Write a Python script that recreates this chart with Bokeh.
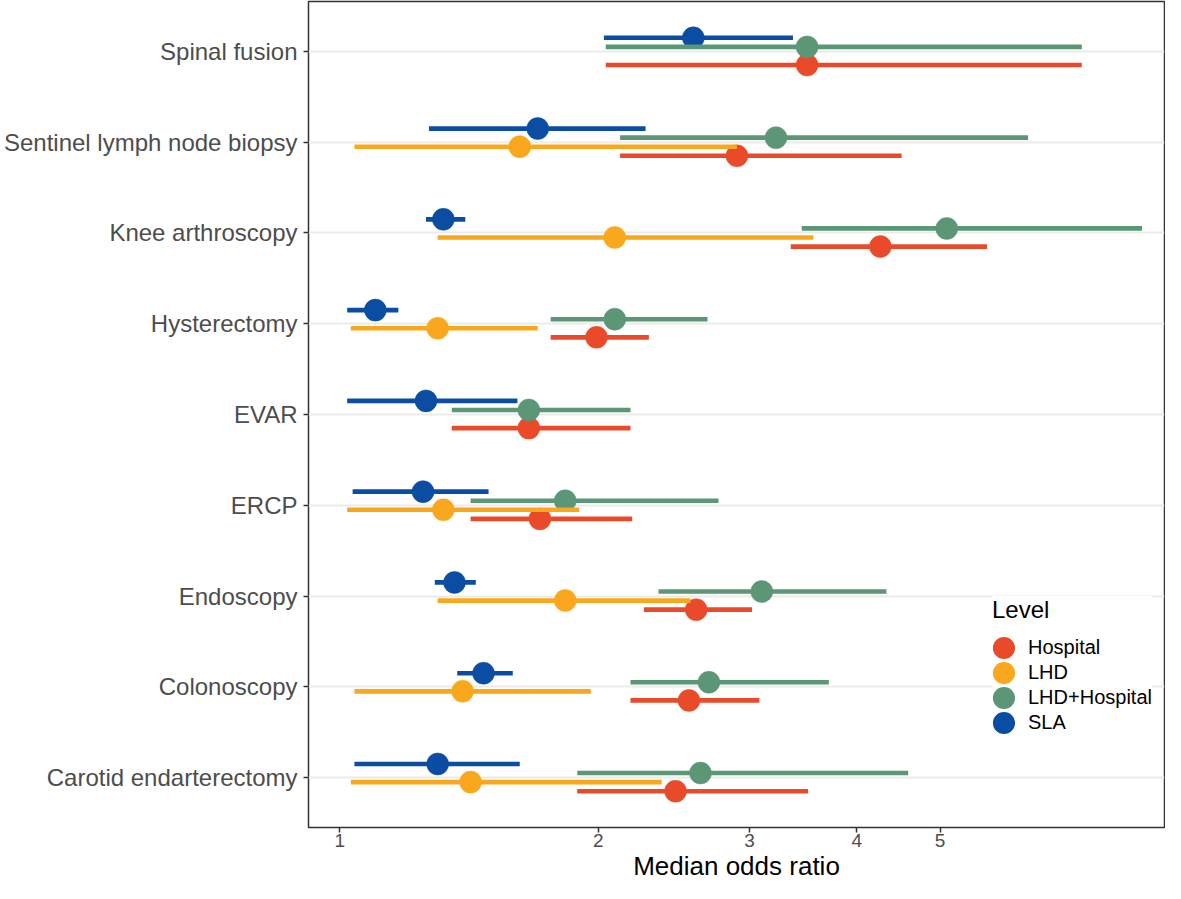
from bokeh.plotting import figure
from bokeh.models import (Range1d, FixedTicker, PrintfTickFormatter, Legend,
                          LegendItem, ColumnDataSource)
from bokeh.embed import file_html
from bokeh.resources import INLINE

# ---------------- data ----------------
categories = ["Carotid endarterectomy", "Colonoscopy", "Endoscopy", "ERCP", "EVAR",
              "Hysterectomy", "Knee arthroscopy", "Sentinel lymph node biopsy",
              "Spinal fusion"]
levels = ["Hospital", "LHD", "LHD+Hospital", "SLA"]
level_colors = ["#E84A2A", "#F9A71C", "#5B9676", "#0A4DA2"]

hospital_est = [2.46, 2.55, 2.60, 1.71, 1.66, 1.99, 4.26, 2.90, 3.50]
hospital_lo = [1.89, 2.18, 2.26, 1.42, 1.35, 1.76, 3.35, 2.12, 2.04]
hospital_hi = [3.51, 3.08, 3.02, 2.19, 2.18, 2.29, 5.67, 4.51, 7.31]

lhd_est = [1.42, 1.39, 1.83, 1.32, None, 1.30, 2.09, 1.62, None]
lhd_lo = [1.03, 1.04, 1.30, 1.02, None, 1.03, 1.30, 1.04, None]
lhd_hi = [2.37, 1.96, 2.56, 1.90, None, 1.70, 3.56, 2.90, None]

lhdhosp_est = [2.63, 2.69, 3.10, 1.83, 1.66, 2.09, 5.09, 3.22, 3.50]
lhdhosp_lo = [1.89, 2.18, 2.35, 1.42, 1.35, 1.76, 3.45, 2.12, 2.04]
lhdhosp_hi = [4.59, 3.71, 4.33, 2.76, 2.18, 2.68, 8.59, 6.33, 7.31]

sla_est = [1.30, 1.47, 1.36, 1.25, 1.26, 1.10, 1.32, 1.70, 2.58]
sla_lo = [1.04, 1.37, 1.29, 1.035, 1.02, 1.02, 1.26, 1.27, 2.03]
sla_hi = [1.62, 1.59, 1.44, 1.49, 1.61, 1.17, 1.40, 2.27, 3.37]

x_ticks = [1, 2, 3, 4, 5]
x_title = "Median odds ratio"
legend_title = "Level"

series = [(hospital_est, hospital_lo, hospital_hi),
          (lhd_est, lhd_lo, lhd_hi),
          (lhdhosp_est, lhdhosp_lo, lhdhosp_hi),
          (sla_est, sla_lo, sla_hi)]
dodge = [-0.15, -0.05, 0.05, 0.15]

FONT = "Liberation Sans"

p = figure(width=1165, height=883, x_axis_type="log",
           x_range=Range1d(0.9195, 9.125), y_range=Range1d(-0.55, 8.55),
           output_backend="svg", toolbar_location=None,
           min_border_left=308, min_border_right=1, min_border_top=1,
           min_border_bottom=55)

sources = []
for (est, lo, hi), off in zip(series, dodge):
    ys, es, ls, hs = [], [], [], []
    for i, (e, l, h) in enumerate(zip(est, lo, hi)):
        if e is None:
            continue
        ys.append(i + off)
        es.append(e)
        ls.append(l)
        hs.append(h)
    sources.append(ColumnDataSource(dict(y=ys, est=es, lo=ls, hi=hs)))

# points first, then the interval lines over them
for src, col in zip(sources, level_colors):
    p.scatter(x="est", y="y", source=src, marker="circle", size=22,
              fill_color=col, line_color=col, line_width=0.5)
for src, col in zip(sources, level_colors):
    p.segment(x0="lo", y0="y", x1="hi", y1="y", source=src,
              line_color=col, line_width=4.6)

# legend-only renderers (one NaN row each, so nothing is drawn in the panel)
items = []
for lvl, col in zip(levels, level_colors):
    r = p.scatter(x=[float("nan")], y=[float("nan")], marker="circle", size=9,
                  fill_color=col, line_color=col, line_width=13)
    items.append(LegendItem(label=lvl, renderers=[r]))

legend = Legend(items=items, title=legend_title, location=(684, 92),
                glyph_width=23, glyph_height=25, label_height=20, spacing=0,
                padding=4, margin=0, label_standoff=13,
                background_fill_color="white", background_fill_alpha=1.0,
                border_line_color=None,
                label_text_font=FONT, label_text_font_size="20px",
                label_text_color="black",
                title_text_font=FONT, title_text_font_size="24px",
                title_text_font_style="normal", title_text_color="black",
                title_standoff=11)
p.add_layout(legend)

# axes
p.yaxis.ticker = FixedTicker(ticks=list(range(len(categories))), minor_ticks=[])
p.yaxis.major_label_overrides = {i: c for i, c in enumerate(categories)}
p.yaxis.major_label_text_font = FONT
p.yaxis.major_label_text_font_size = "24px"
p.yaxis.major_label_text_color = "#4D4D4D"
p.yaxis.axis_line_color = None
p.yaxis.major_tick_line_color = "#333333"
p.yaxis.major_tick_line_width = 1.5
p.yaxis.major_tick_out = 5
p.yaxis.major_tick_in = 0
p.yaxis.minor_tick_line_color = None
p.yaxis.major_label_standoff = 6

p.xaxis.ticker = FixedTicker(ticks=x_ticks, minor_ticks=[])
p.xaxis.formatter = PrintfTickFormatter(format="%d")
p.xaxis.axis_label = x_title
p.xaxis.axis_label_text_font = FONT
p.xaxis.axis_label_text_font_size = "26px"
p.xaxis.axis_label_text_font_style = "normal"
p.xaxis.axis_label_text_color = "black"
p.xaxis.axis_label_standoff = 1
p.xaxis.major_label_text_font = FONT
p.xaxis.major_label_text_font_size = "19px"
p.xaxis.major_label_text_color = "#4D4D4D"
p.xaxis.major_label_standoff = 1
p.xaxis.axis_line_color = None
p.xaxis.major_tick_line_color = "#333333"
p.xaxis.major_tick_line_width = 1.5
p.xaxis.major_tick_out = 5
p.xaxis.major_tick_in = 0
p.xaxis.minor_tick_line_color = None

p.xgrid.visible = False
p.ygrid.ticker = FixedTicker(ticks=list(range(len(categories))), minor_ticks=[])
p.ygrid.grid_line_color = "#EBEBEB"
p.ygrid.grid_line_width = 2

p.outline_line_color = "#333333"
p.outline_line_width = 1.5
p.background_fill_color = "white"
p.border_fill_color = "white"

open("out.html", "w").write(file_html(p, INLINE))
